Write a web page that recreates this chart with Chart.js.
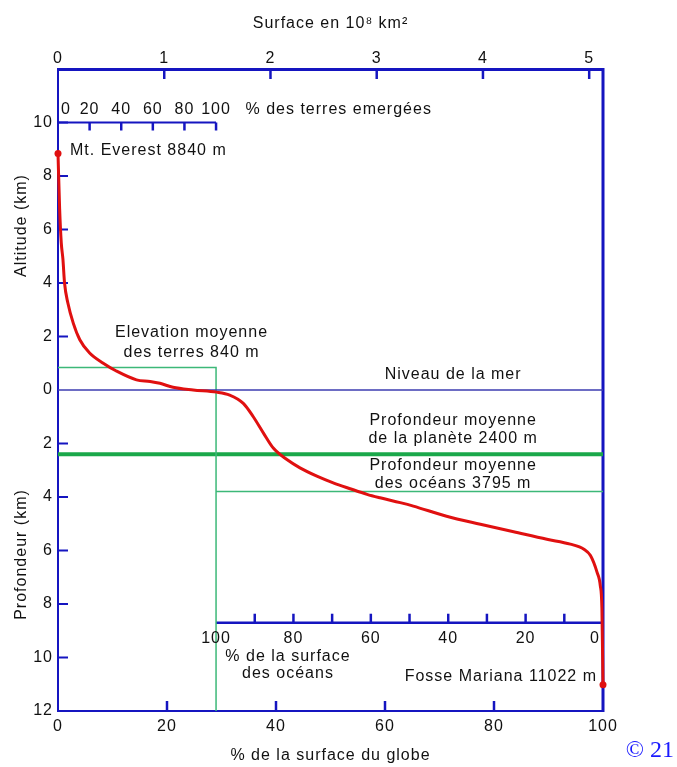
<!DOCTYPE html>
<html lang="fr">
<head>
<meta charset="utf-8">
<title>Courbe hypsométrique</title>
<script src="https://cdn.jsdelivr.net/npm/chart.js@4/dist/chart.umd.min.js"></script>
<style>
  html, body { margin: 0; padding: 0; background: #fff; }
  #wrap { width: 677px; height: 767px; }
</style>
</head>
<body>
<div id="wrap"><canvas id="courbe" width="677" height="767"></canvas></div>
<script>
// courbe hypsométrique : % cumulé de la surface du globe -> altitude (km)
const surfacePct = [0, 0.3, 0.6, 0.9, 1.2, 1.8, 2.8, 4.0, 5.8, 8.3, 10.7, 14.4, 16.9, 18.7, 21.1, 24.8,
  29.1, 31.5, 34, 35.8, 37.7, 39.5, 42, 44.4, 47.5, 50.5, 53.6, 56.7, 59.1, 62.8, 65.2, 71.3,
  77.5, 83.6, 89.7, 94, 96.5, 97.7, 98.9, 99.5, 99.8, 100];
const altitudeKm = [8.84, 6.77, 5.5, 4.9, 4.0, 3.26, 2.5, 1.88, 1.38, 1.0, 0.71, 0.38, 0.32, 0.25, 0.1, 0.0,
  -0.08, -0.19, -0.5, -0.99, -1.61, -2.17, -2.6, -2.91, -3.22, -3.47, -3.69, -3.9, -4.03, -4.21, -4.34, -4.72,
  -5.02, -5.3, -5.58, -5.76, -5.95, -6.19, -6.81, -7.31, -8.18, -11.022];

const everest = 8.84;
const mariana = -11.022;
const terresPct = 29;            // part des terres émergées
const altMoyTerres = 0.84;
const profMoyPlanete = -2.4;
const profMoyOceans = -3.795;
const surfaceTotale = 5.13;      // 10^8 km²

const pctTicks = [0, 20, 40, 60, 80, 100];
const surfaceTicks = [0, 1, 2, 3, 4, 5];
const altTicks = [10, 8, 6, 4, 2, -2, -4, -6, -8, -10];
const terresTicks = [0, 20, 40, 60, 80, 100];
const oceansTicks = [90, 80, 70, 60, 50, 40, 30, 20, 10];
const oceansLabels = [100, 80, 60, 40, 20, 0];
const niveauAxeTerres = 10;
const niveauAxeOceans = -8.7;

const BLEU = '#1515c0';
const ROUGE = '#e01010';
const VERT = '#3cb878';
const VERT_FONCE = '#1aa84a';
const TEXTE = '#111';
const POLICE = '"Liberation Sans", Arial, sans-serif';

Chart.defaults.font.family = POLICE;
Chart.defaults.font.size = 16;
Chart.defaults.color = TEXTE;

function trait(ctx, x1, y1, x2, y2, w) {
  ctx.lineWidth = w;
  ctx.beginPath();
  ctx.moveTo(x1, y1);
  ctx.lineTo(x2, y2);
  ctx.stroke();
}

function texte(ctx, str, x, y, align) {
  ctx.textAlign = align || 'center';
  ctx.fillText(str, x, y);
}

const habillage = {
  id: 'habillage',
  beforeDraw(chart) {
    chart.ctx.letterSpacing = '1px';
  },
  beforeDatasetsDraw(chart) {
    const { ctx, chartArea: a, scales: { x, x2, y } } = chart;
    ctx.save();
    ctx.strokeStyle = BLEU;
    trait(ctx, a.right, a.top - 1, a.right, a.bottom + 1, 3);

    // graduations des trois axes principaux
    pctTicks.slice(1, -1).forEach(v => {
      const px = x.getPixelForValue(v);
      trait(ctx, px, a.bottom, px, a.bottom - 10, 2.5);
    });
    surfaceTicks.slice(1).forEach(v => {
      const px = x2.getPixelForValue(v);
      trait(ctx, px, a.top, px, a.top + 10, 2.5);
    });
    altTicks.forEach(v => {
      const py = y.getPixelForValue(v);
      trait(ctx, a.left, py, a.left + 10, py, 2);
    });

    // axe des terres émergées
    const yT = y.getPixelForValue(niveauAxeTerres);
    trait(ctx, a.left, yT, x.getPixelForValue(terresPct), yT, 2);
    terresTicks.slice(1).forEach(p => {
      const px = x.getPixelForValue(terresPct * p / 100);
      trait(ctx, px, yT, px, yT + 8, 2.5);
    });

    // axe des océans (100 -> 0)
    const yO = y.getPixelForValue(niveauAxeOceans);
    const xOcean = p => x.getPixelForValue(100 - (100 - terresPct) * p / 100);
    trait(ctx, xOcean(100), yO, a.right, yO, 2.5);
    oceansTicks.forEach(p => {
      const px = xOcean(p);
      trait(ctx, px, yO, px, yO - 9, 2.5);
    });
    ctx.restore();
  },
  afterDatasetsDraw(chart) {
    const { ctx, chartArea: a, scales: { x, y } } = chart;
    ctx.save();
    ctx.fillStyle = TEXTE;
    ctx.font = '16px ' + POLICE;
    ctx.textBaseline = 'middle';

    const yT = y.getPixelForValue(niveauAxeTerres);
    terresTicks.forEach(p => {
      const px = x.getPixelForValue(terresPct * p / 100) + (p === 0 ? 8 : 0);
      texte(ctx, String(p), px, yT - 13);
    });
    texte(ctx, '% des terres emergées', x.getPixelForValue(34.4), yT - 13, 'left');

    const yO = y.getPixelForValue(niveauAxeOceans);
    oceansLabels.forEach(p => {
      const px = x.getPixelForValue(100 - (100 - terresPct) * p / 100) - (p === 0 ? 8 : 0);
      texte(ctx, String(p), px, yO + 16);
    });
    texte(ctx, '% de la surface', x.getPixelForValue(42.2), yO + 34);
    texte(ctx, 'des océans', x.getPixelForValue(42.2), yO + 51);

    const yE = y.getPixelForValue(everest);
    texte(ctx, 'Mt. Everest 8840 m', a.left + 12, yE - 3, 'left');
    const yM = y.getPixelForValue(mariana);
    texte(ctx, 'Fosse Mariana 11022 m', a.right - 6, yM - 8, 'right');

    const yMT = y.getPixelForValue(altMoyTerres);
    texte(ctx, 'Elevation moyenne', x.getPixelForValue(24.5), yMT - 35);
    texte(ctx, 'des terres 840 m', x.getPixelForValue(24.5), yMT - 15);

    const xDroite = x.getPixelForValue(72.5);
    texte(ctx, 'Niveau de la mer', xDroite, y.getPixelForValue(0) - 15);
    const yP = y.getPixelForValue(profMoyPlanete);
    texte(ctx, 'Profondeur moyenne', xDroite, yP - 34);
    texte(ctx, 'de la planète 2400 m', xDroite, yP - 16);
    const yOc = y.getPixelForValue(profMoyOceans);
    texte(ctx, 'Profondeur moyenne', xDroite, yOc - 26);
    texte(ctx, 'des océans 3795 m', xDroite, yOc - 8);

    // titres verticaux
    [['Altitude (km)', 6.15], ['Profondeur (km)', -6.15]].forEach(([t, v]) => {
      ctx.save();
      ctx.translate(a.left - 36, y.getPixelForValue(v));
      ctx.rotate(-Math.PI / 2);
      texte(ctx, t, 0, 0);
      ctx.restore();
    });

    ctx.fillStyle = '#1a1aff';
    ctx.font = '24px "Liberation Serif", "Times New Roman", serif';
    ctx.letterSpacing = '0px';
    texte(ctx, '© 21', 674, 751, 'right');
    ctx.restore();
  }
};

const courbe = surfacePct.map((p, i) => ({ x: p, y: altitudeKm[i] }));

new Chart(document.getElementById('courbe'), {
  type: 'line',
  data: {
    datasets: [
      {
        label: 'Extrêmes',
        data: [{ x: 0, y: everest }, { x: 100, y: mariana }],
        showLine: false,
        pointRadius: 3.5,
        pointBackgroundColor: ROUGE,
        pointBorderWidth: 0,
        clip: false
      },
      {
        label: 'Courbe hypsométrique',
        data: courbe,
        borderColor: ROUGE,
        borderWidth: 3,
        pointRadius: 0,
        cubicInterpolationMode: 'monotone',
        clip: false
      },
      {
        label: 'Niveau de la mer',
        data: [{ x: 0, y: 0 }, { x: 100, y: 0 }],
        borderColor: '#3c3cb0',
        borderWidth: 1.5,
        pointRadius: 0
      },
      {
        label: 'Elevation moyenne des terres',
        data: [{ x: 0, y: altMoyTerres }, { x: terresPct, y: altMoyTerres }, { x: terresPct, y: -12 }],
        borderColor: VERT,
        borderWidth: 1.5,
        pointRadius: 0
      },
      {
        label: 'Profondeur moyenne de la planète',
        data: [{ x: 0, y: profMoyPlanete }, { x: 100, y: profMoyPlanete }],
        borderColor: VERT_FONCE,
        borderWidth: 4,
        pointRadius: 0
      },
      {
        label: 'Profondeur moyenne des océans',
        data: [{ x: terresPct, y: profMoyOceans }, { x: 100, y: profMoyOceans }],
        borderColor: VERT,
        borderWidth: 1.5,
        pointRadius: 0
      }
    ]
  },
  options: {
    responsive: false,
    animation: false,
    devicePixelRatio: 1,
    layout: { padding: { left: 0, right: 74, top: 0, bottom: 0 } },
    plugins: { legend: { display: false }, tooltip: { enabled: false } },
    scales: {
      x: {
        type: 'linear',
        position: 'bottom',
        min: 0,
        max: 100,
        ticks: { stepSize: 20, padding: 6, maxRotation: 0, autoSkip: false },
        grid: { drawOnChartArea: false, drawTicks: false },
        border: { color: BLEU, width: 2 },
        title: { display: true, text: '% de la surface du globe', padding: { top: 4, bottom: 2 } },
        afterFit: s => { s.height = 56; }
      },
      x2: {
        type: 'linear',
        position: 'top',
        min: 0,
        max: surfaceTotale,
        afterBuildTicks: s => { s.ticks = surfaceTicks.map(v => ({ value: v })); },
        ticks: { padding: 1, maxRotation: 0, autoSkip: false },
        grid: { drawOnChartArea: false, drawTicks: false },
        border: { color: BLEU, width: 3 },
        title: { display: true, text: 'Surface en 10⁸ km²', padding: { top: 14, bottom: 2 } },
        afterFit: s => { s.height = 69; }
      },
      y: {
        type: 'linear',
        min: -12,
        max: 12,
        ticks: { stepSize: 2, padding: 5, callback: v => (v === 12 ? '' : Math.abs(v)) },
        grid: { drawOnChartArea: false, drawTicks: false },
        border: { color: BLEU, width: 2 },
        afterFit: s => { s.width = 58; }
      }
    }
  },
  plugins: [habillage]
});
</script>
</body>
</html>
